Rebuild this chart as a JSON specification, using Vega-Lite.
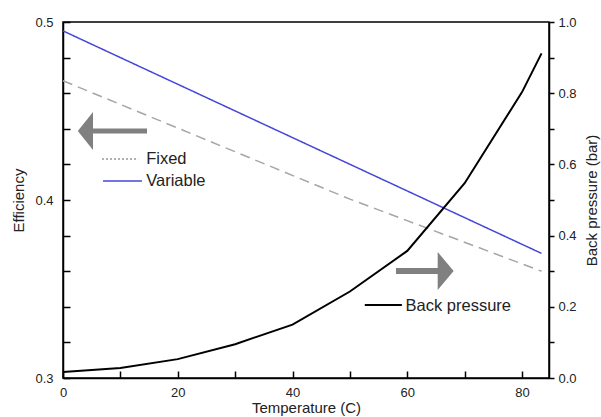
{
  "$schema": "https://vega.github.io/schema/vega-lite/v6.json",
  "width": 486,
  "height": 356,
  "autosize": {"type": "none"},
  "padding": {"left": 63, "top": 22, "right": 52, "bottom": 39},
  "background": "#ffffff",
  "config": {
    "font": "Liberation Sans",
    "view": {"stroke": "#000000", "strokeWidth": 1.5},
    "axis": {
      "domainColor": "#000000",
      "domainWidth": 1.5,
      "tickColor": "#000000",
      "tickWidth": 1.5,
      "grid": false,
      "labelOverlap": false,
      "labelFont": "Liberation Sans",
      "labelFontSize": 13,
      "labelColor": "#222222",
      "titleFont": "Liberation Sans",
      "titleFontSize": 15,
      "titleFontWeight": "normal",
      "titleColor": "#222222"
    }
  },
  "datasets": {
    "efficiency": [
      {"T": 0, "eff": 0.495, "series": "Variable"},
      {"T": 83.4, "eff": 0.370, "series": "Variable"},
      {"T": 0, "eff": 0.467, "series": "Fixed"},
      {"T": 50, "eff": 0.4005, "series": "Fixed"},
      {"T": 83.4, "eff": 0.360, "series": "Fixed"}
    ],
    "backpressure": [
      {"T": 0, "bp": 0.017},
      {"T": 10, "bp": 0.028},
      {"T": 20, "bp": 0.053},
      {"T": 30, "bp": 0.095},
      {"T": 40, "bp": 0.150},
      {"T": 50, "bp": 0.243},
      {"T": 60, "bp": 0.357},
      {"T": 70, "bp": 0.547},
      {"T": 80, "bp": 0.803},
      {"T": 83.4, "bp": 0.912}
    ]
  },
  "layer": [
    {
      "data": {"values": [{}]},
      "layer": [
        {
          "data": {"name": "efficiency"},
          "mark": {"type": "line", "strokeWidth": 1.5},
          "encoding": {
            "x": {
              "field": "T",
              "type": "quantitative",
              "scale": {"domain": [0, 84.7], "nice": false, "zero": false},
              "axis": {
                "title": "Temperature (C)",
                "values": [0, 10, 20, 30, 40, 50, 60, 70, 80],
                "tickCount": 30,
                "labelExpr": "datum.value % 20 === 0 ? format(datum.value, 'd') : ''",
                "labelOverlap": false,
                "tickSize": -7,
                "labelPadding": 15,
                "labelFlush": false,
                "titlePadding": 1,
                "encode": {
                  "ticks": {"update": {"y2": {"signal": "datum.value % 20 === 0 ? -7 : -4"}}}
                }
              }
            },
            "y": {
              "field": "eff",
              "type": "quantitative",
              "scale": {"domain": [0.3, 0.5], "nice": false, "zero": false},
              "axis": {
                "title": "Efficiency",
                "orient": "left",
                "values": [0.3, 0.32, 0.34, 0.36, 0.38, 0.4, 0.42, 0.44, 0.46, 0.48, 0.5],
                "tickCount": 30,
                "labelExpr": "round(datum.value * 100) % 10 === 0 ? format(datum.value, '.1f') : ''",
                "labelOverlap": false,
                "tickSize": -7,
                "labelPadding": 17,
                "labelFlush": false,
                "titlePadding": 8,
                "encode": {
                  "ticks": {"update": {"x2": {"signal": "round(datum.value * 100) % 10 === 0 ? 7 : 5"}}}
                }
              }
            },
            "color": {
              "field": "series",
              "type": "nominal",
              "scale": {"domain": ["Fixed", "Variable"], "range": ["#a6a6a6", "#4646d8"]},
              "legend": null
            },
            "strokeDash": {
              "field": "series",
              "type": "nominal",
              "scale": {"domain": ["Fixed", "Variable"], "range": [[10, 6], [1, 0]]},
              "legend": null
            }
          }
        },
        {
          "mark": {"type": "rule", "color": "#999999", "strokeWidth": 1.5, "strokeDash": [2, 2]},
          "encoding": {
            "x": {"datum": 6.8, "type": "quantitative"},
            "x2": {"datum": 13.1},
            "y": {"datum": 0.423, "type": "quantitative"}
          }
        },
        {
          "mark": {"type": "rule", "color": "#4646d8", "strokeWidth": 1.5},
          "encoding": {
            "x": {"datum": 6.98, "type": "quantitative"},
            "x2": {"datum": 13.76},
            "y": {"datum": 0.4107, "type": "quantitative"}
          }
        },
        {
          "mark": {"type": "rule", "color": "#000000", "strokeWidth": 2},
          "encoding": {
            "x": {"datum": 52.6, "type": "quantitative"},
            "x2": {"datum": 59.06},
            "y": {"datum": 0.341, "type": "quantitative"}
          }
        },
        {
          "mark": {"type": "text", "text": "Fixed", "align": "left", "baseline": "middle", "fontSize": 16.5, "font": "Liberation Sans", "color": "#222222"},
          "encoding": {
            "x": {"datum": 14.5, "type": "quantitative"},
            "y": {"datum": 0.423, "type": "quantitative"}
          }
        },
        {
          "mark": {"type": "text", "text": "Variable", "align": "left", "baseline": "middle", "fontSize": 16.5, "font": "Liberation Sans", "color": "#222222"},
          "encoding": {
            "x": {"datum": 14.5, "type": "quantitative"},
            "y": {"datum": 0.4107, "type": "quantitative"}
          }
        },
        {
          "mark": {"type": "text", "text": "Back pressure", "align": "left", "baseline": "middle", "fontSize": 16.5, "font": "Liberation Sans", "color": "#222222"},
          "encoding": {
            "x": {"datum": 59.7, "type": "quantitative"},
            "y": {"datum": 0.3407, "type": "quantitative"}
          }
        },
        {
          "mark": {"type": "rule", "color": "#808080", "strokeWidth": 5},
          "encoding": {
            "x": {"datum": 5.0, "type": "quantitative"},
            "x2": {"datum": 14.64},
            "y": {"datum": 0.43876, "type": "quantitative"}
          }
        },
        {
          "mark": {"type": "point", "shape": "M-0.8,0L0,-1L0,1Z", "size": 1444, "filled": true, "opacity": 1, "color": "#808080", "strokeWidth": 0},
          "encoding": {
            "x": {"datum": 5.23, "type": "quantitative"},
            "y": {"datum": 0.43876, "type": "quantitative"}
          }
        },
        {
          "mark": {"type": "rule", "color": "#808080", "strokeWidth": 6},
          "encoding": {
            "x": {"datum": 58.03, "type": "quantitative"},
            "x2": {"datum": 65.6},
            "y": {"datum": 0.36011, "type": "quantitative"}
          }
        },
        {
          "mark": {"type": "point", "shape": "M0,-1L0.84,0L0,1Z", "size": 1444, "filled": true, "opacity": 1, "color": "#808080", "strokeWidth": 0},
          "encoding": {
            "x": {"datum": 65.3, "type": "quantitative"},
            "y": {"datum": 0.36011, "type": "quantitative"}
          }
        }
      ]
    },
    {
      "data": {"name": "backpressure"},
      "mark": {"type": "line", "color": "#000000", "strokeWidth": 2},
      "encoding": {
        "x": {"field": "T", "type": "quantitative"},
        "y": {
          "field": "bp",
          "type": "quantitative",
          "scale": {"domain": [0, 1], "nice": false, "zero": false},
          "axis": {
            "title": "Back pressure (bar)",
            "orient": "right",
            "values": [0, 0.1, 0.2, 0.3, 0.4, 0.5, 0.6, 0.7, 0.8, 0.9, 1.0],
            "tickCount": 30,
            "labelExpr": "round(datum.value * 10) % 2 === 0 ? format(datum.value, '.1f') : ''",
            "labelOverlap": false,
            "tickSize": 5,
            "labelPadding": 4,
            "labelFlush": false,
            "titleAngle": 270,
            "titleBaseline": "top",
            "titlePadding": 8,
            "encode": {
              "ticks": {"update": {"x2": {"signal": "round(datum.value * 10) % 2 === 0 ? 5 : -5"}}}
            }
          }
        }
      }
    }
  ],
  "resolve": {"scale": {"y": "independent"}}
}
